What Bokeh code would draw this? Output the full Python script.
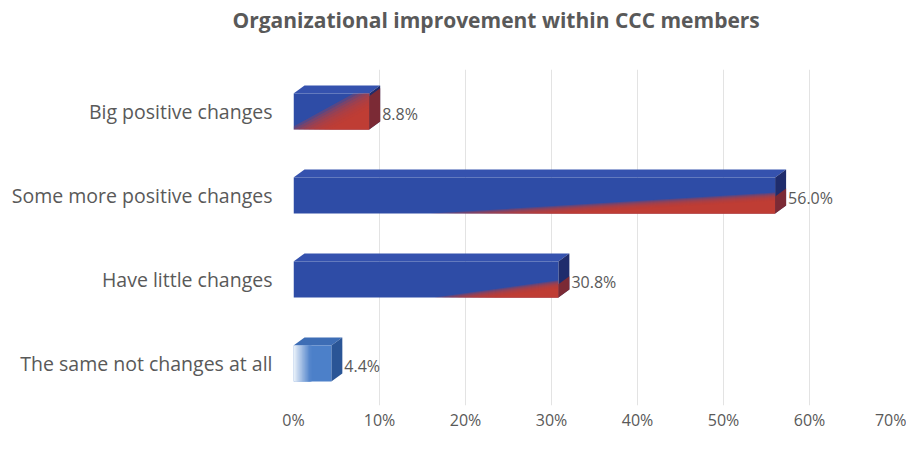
import numpy as np
from bokeh.plotting import figure
from bokeh.models import Range1d, FixedTicker, ColumnDataSource, Title
from bokeh.core.properties import value
from bokeh.embed import file_html
from bokeh.resources import INLINE

# ---------------- data ----------------
categories = ["Big positive changes", "Some more positive changes",
              "Have little changes", "The same not changes at all"]
values = [0.088, 0.560, 0.308, 0.044]
value_labels = ["8.8%", "56.0%", "30.8%", "4.4%"]
x_ticks = [0.0, 0.1, 0.2, 0.3, 0.4, 0.5, 0.6, 0.7]
x_tick_labels = ["0%", "10%", "20%", "30%", "40%", "50%", "60%", "70%"]
title_text = "Organizational improvement within CCC members"

# ---------------- style ----------------
W, H = 906, 433
B_LEFT, B_RIGHT, B_TOP, B_BOTTOM = 293, 11, 0, 25
XMAX = 0.70
NCAT = len(categories)
frame_w = W - B_LEFT - B_RIGHT
frame_h = H - 71 - B_BOTTOM
px_x = frame_w / XMAX
px_y = frame_h / NCAT

BAR_H = 0.43            # category units
DX = 11 / px_x          # 3-D depth in data units
DY = 8 / px_y

TEXT = "#595959"
FONT = "Open Sans"
BLUE = "#2E4CA6"
BLUE_TOP = "#3552AE"
BLUE_SIDE = "#1F2C6C"
RED = "#C83C2E"
RED_SIDE = "#8C2A2C"
# red gradient params per bar: (u0 at bottom, height fraction at right, blend spread px)
grad = [(0.20, 0.92, 10), (0.42, 0.47, 4), (0.64, 0.37, 4), None]

p = figure(width=W, height=H, x_range=Range1d(0, XMAX), y_range=Range1d(0, NCAT),
           output_backend="svg", toolbar_location=None,
           min_border_left=B_LEFT, min_border_right=B_RIGHT,
           min_border_top=B_TOP, min_border_bottom=B_BOTTOM)
p.outline_line_color = None
p.background_fill_color = "white"

# main title (outermost) and a spacer panel between it and the plot area
p.title.text = title_text
p.title.text_font = FONT
p.title.text_font_size = "21px"
p.title.text_font_style = "bold"
p.title.text_color = TEXT
p.title.align = "left"
p.title.offset = -61
p.title.standoff = 6
spacer = Title(text=" ", text_font_size="1px", standoff=30)
p.add_layout(spacer, "above")

# axes
p.xaxis.ticker = FixedTicker(ticks=x_ticks)
p.xaxis.major_label_overrides = {t: l for t, l in zip(x_ticks, x_tick_labels)}
p.xaxis.axis_line_color = None
p.xaxis.major_tick_line_color = None
p.xaxis.minor_tick_line_color = None
p.xaxis.major_tick_out = 0
p.xaxis.major_tick_in = 0
p.xaxis.major_label_standoff = 3
p.xaxis.major_label_text_font = FONT
p.xaxis.major_label_text_font_size = "16px"
p.xaxis.major_label_text_color = TEXT

centers = [NCAT - 0.5 - i for i in range(NCAT)]
p.yaxis.ticker = FixedTicker(ticks=centers)
p.yaxis.major_label_overrides = {c: cat for c, cat in zip(centers, categories)}
p.yaxis.axis_line_color = None
p.yaxis.major_tick_line_color = None
p.yaxis.minor_tick_line_color = None
p.yaxis.major_tick_out = 0
p.yaxis.major_tick_in = 0
p.yaxis.major_label_standoff = 21
p.yaxis.major_label_text_font = FONT
p.yaxis.major_label_text_font_size = "19.5px"
p.yaxis.major_label_text_color = TEXT

p.ygrid.grid_line_color = None
p.xgrid.grid_line_color = "#E3E3E3"
p.xgrid.grid_line_width = 1


def clip(poly, f, c):
    out = []
    n = len(poly)
    for i in range(n):
        a, b = poly[i], poly[(i + 1) % n]
        fa, fb = f(a) - c, f(b) - c
        if fa >= 0:
            out.append(a)
        if (fa >= 0) != (fb >= 0):
            t = fa / (fa - fb)
            out.append((a[0] + t * (b[0] - a[0]), a[1] + t * (b[1] - a[1])))
    return out


def hex_mix(c1, c2, t):
    a = [int(c1[i:i + 2], 16) for i in (1, 3, 5)]
    b = [int(c2[i:i + 2], 16) for i in (1, 3, 5)]
    return "#%02x%02x%02x" % tuple(int(round(a[k] + (b[k] - a[k]) * t)) for k in range(3))


for i, (v, yc) in enumerate(zip(values, centers)):
    bot, top = yc - BAR_H / 2, yc + BAR_H / 2
    light = grad[i] is None
    front = BLUE if not light else "#4C80C9"
    topc = BLUE_TOP if not light else "#3D6DB5"
    side = BLUE_SIDE if not light else "#2A5596"

    # top face and side face
    p.patch([0, v, v + DX, DX], [top, top, top + DY, top + DY], fill_color=topc, line_color=None)
    p.patch([v, v + DX, v + DX, v], [bot, bot + DY, top + DY, top], fill_color=side, line_color=None)
    # front face
    p.quad(left=[0], right=[v], bottom=[bot], top=[top], fill_color=front, line_color=None)

    if light:
        n = 14
        edges = np.linspace(0, 0.45, n + 1)
        for k in range(n):
            col = hex_mix("#EEF4FB", "#4C80C9", (k + 0.5) / n)
            p.quad(left=[v * edges[k]], right=[v * edges[k + 1] + 1.0 / px_x], bottom=[bot], top=[top],
                   fill_color=col, line_color=None)
        continue

    u0, h1, spread = grad[i]
    Lp, Hp = v * px_x, BAR_H * px_y
    P0 = np.array([u0 * Lp, 0.0])
    P1 = np.array([Lp, h1 * Hp])
    d = P1 - P0
    ln = np.hypot(*d)

    def f(pt, P0=P0, d=d, ln=ln):
        return -(d[0] * (pt[1] - P0[1]) - d[1] * (pt[0] - P0[0])) / ln

    rect = [(0, 0), (Lp, 0), (Lp, Hp), (0, Hp)]
    nl = 9
    for c in np.linspace(-spread, spread, nl):
        poly = clip(rect, f, c)
        if len(poly) < 3:
            continue
        xs = [q[0] / px_x for q in poly]
        ys = [bot + q[1] / px_y for q in poly]
        p.patch(xs, ys, fill_color=RED, fill_alpha=0.28, line_color=None)
    # red lower part of the side face
    hs = min(h1, 1.0) * BAR_H
    p.patch([v, v + DX, v + DX, v], [bot, bot + DY, bot + DY + hs, bot + hs],
            fill_color=RED_SIDE, fill_alpha=0.85, line_color=None)

# value labels
src = ColumnDataSource(dict(x=[v + DX for v in values], y=centers, t=value_labels))
p.text(x="x", y="y", text="t", source=src, x_offset=2, y_offset=2,
       text_font=value(FONT), text_font_size="16px", text_color=TEXT,
       text_align="left", text_baseline="middle")

open("out.html", "w").write(file_html(p, INLINE))
